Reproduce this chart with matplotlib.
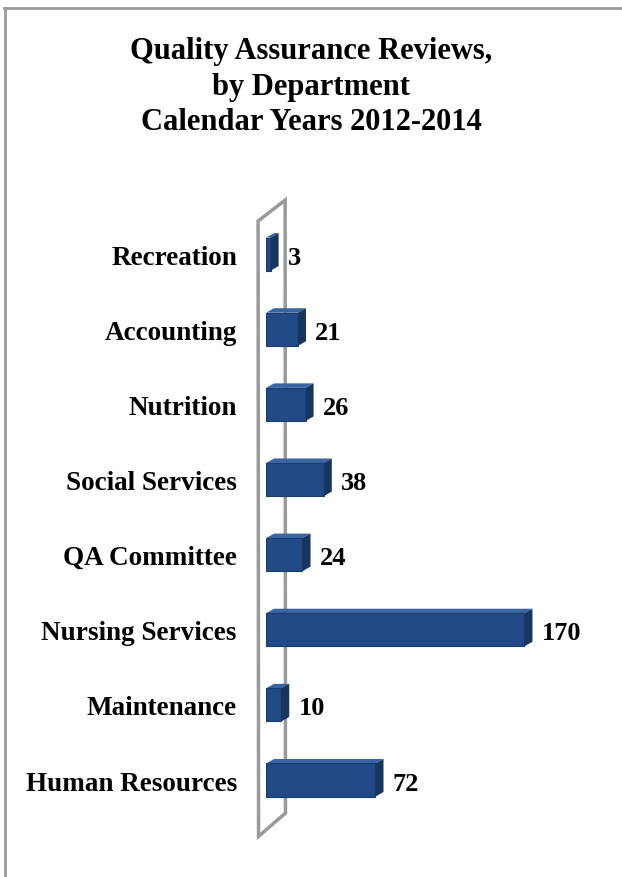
import matplotlib.pyplot as plt
from matplotlib.patches import Polygon
from matplotlib.lines import Line2D

departments = ["Human Resources", "Maintenance", "Nursing Services", "QA Committee",
               "Social Services", "Nutrition", "Accounting", "Recreation"]
reviews = [72, 10, 170, 24, 38, 26, 21, 3]

title = "Quality Assurance Reviews,\nby Department\nCalendar Years 2012-2014"

plt.rcParams['font.family'] = ['Liberation Serif', 'DejaVu Serif']

front = "#214a86"
top_c = "#3a64a2"
side_c = "#16355f"

fig = plt.figure(figsize=(6.22, 8.78), dpi=100)
ax = fig.add_axes([266 / 622, 38 / 878, 334 / 622, 660 / 878])
ax.set_xlim(0, 334 / 1.52)
ax.set_ylim(-0.785, 8.0)

h = 0.44
dx, dy = 5.3, 0.06

# back wall
wall = Polygon([(-5.2, 7.44), (12.6, 7.72), (12.8, -0.44), (-4.9, -0.75)],
               closed=True, facecolor="white", edgecolor="#9a9a9a", lw=2.5,
               clip_on=False, zorder=1)
ax.add_patch(wall)

bars = ax.barh(range(len(departments)), reviews, height=h, color=front,
               edgecolor="#1a3d70", lw=0.8, zorder=3)

for i, v in enumerate(reviews):
    y0, y1 = i - h / 2, i + h / 2
    ax.add_patch(Polygon([(0, y1), (v, y1), (v + dx, y1 + dy), (dx, y1 + dy)],
                         closed=True, facecolor=top_c, edgecolor="none", zorder=2))
    ax.add_patch(Polygon([(v, y0), (v, y1), (v + dx, y1 + dy), (v + dx, y0 + dy)],
                         closed=True, facecolor=side_c, edgecolor="none", zorder=4))
    ax.text(v + dx + 6, i - 0.04, str(v), va="center", ha="left",
            fontsize=19, fontweight="bold")

ax.set_yticks(range(len(departments)))
ax.set_yticklabels(departments, fontsize=19.5, fontweight="bold")
ax.tick_params(axis="y", length=0, pad=21)
ax.set_xticks([])
for s in ax.spines.values():
    s.set_visible(False)

fig.text(0.5, 1 - 37 / 878, title, ha="center", va="top", fontsize=22,
         fontweight="bold", linespacing=1.3)

# outer frame
fig.add_artist(Line2D([4 / 622, 1], [1 - 9 / 878, 1 - 9 / 878],
                      transform=fig.transFigure, color="#9a9a9a", lw=2))
fig.add_artist(Line2D([5 / 622, 5 / 622], [0, 1 - 9 / 878],
                      transform=fig.transFigure, color="#9a9a9a", lw=2))

fig.savefig("out.png", dpi=100)
